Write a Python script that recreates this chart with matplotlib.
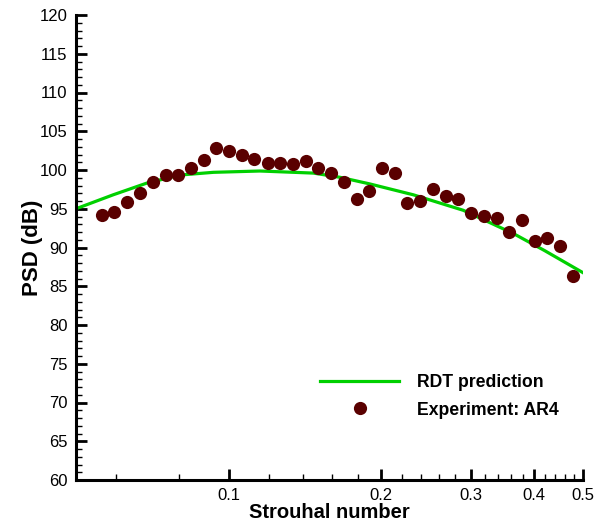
import numpy as np
import matplotlib
matplotlib.use('Agg')
import matplotlib.pyplot as plt

plt.rcParams['font.family'] = ['Liberation Sans', 'DejaVu Sans']

st_exp = [0.0562, 0.0595, 0.0631, 0.0669, 0.0708, 0.0752, 0.0796, 0.0842, 0.0893,
          0.0946, 0.1002, 0.1061, 0.1123, 0.1194, 0.1263, 0.1338, 0.1419, 0.1503,
          0.1594, 0.1689, 0.1789, 0.1894, 0.2004, 0.2127, 0.2251, 0.2385, 0.2530,
          0.2680, 0.2838, 0.3011, 0.3189, 0.3379, 0.3578, 0.3790, 0.4015, 0.4252,
          0.4504, 0.4771]
psd_exp = [94.2, 94.6, 95.9, 97.0, 98.4, 99.3, 99.3, 100.2, 101.3,
           102.8, 102.5, 101.9, 101.4, 100.9, 100.9, 100.8, 101.1, 100.2,
           99.6, 98.4, 96.3, 97.3, 100.2, 99.6, 95.8, 96.0, 97.5,
           96.6, 96.2, 94.5, 94.1, 93.8, 92.0, 93.5, 90.9, 91.2,
           90.2, 86.3]

# RDT prediction curve
st_rdt = [0.050, 0.0592, 0.0689, 0.0802, 0.0933, 0.1153, 0.147, 0.1658, 0.190,
          0.2314, 0.2903, 0.3645, 0.42, 0.50]
psd_rdt = [95.0, 96.8, 98.3, 99.35, 99.7, 99.87, 99.6, 99.06, 98.2,
           96.8, 94.8, 91.8, 89.6, 86.75]

major_x = [0.1, 0.2, 0.3, 0.4, 0.5]
minor_x = [0.06, 0.08, 0.12, 0.14, 0.16, 0.18, 0.22, 0.24, 0.26, 0.28,
           0.32, 0.34, 0.36, 0.38, 0.42, 0.44, 0.46, 0.48]

fig = plt.figure(figsize=(6.09, 5.25), dpi=100)
ax = fig.add_axes([76 / 609, 1 - 480 / 525, (583 - 76) / 609, (480 - 15) / 525])

ax.plot(st_rdt, psd_rdt, color='#00d000', lw=2.3, label='RDT prediction', zorder=2)
ax.plot(st_exp, psd_exp, 'o', color='#5a0000', ms=9.5, mew=0,
        label='Experiment: AR4', zorder=3)

ax.set_xscale('log')
ax.set_xlim(0.05, 0.5)
ax.set_ylim(60, 120)

ax.set_xticks(major_x)
ax.set_xticklabels([str(v) for v in major_x])
ax.set_xticks(minor_x, minor=True)
ax.xaxis.set_minor_formatter(matplotlib.ticker.NullFormatter())
ax.set_yticks(np.arange(60, 121, 5))
ax.set_yticks(np.arange(60, 121, 1), minor=True)

for s in ['top', 'right']:
    ax.spines[s].set_visible(False)
for s in ['left', 'bottom']:
    ax.spines[s].set_linewidth(2.2)

ax.tick_params(which='major', direction='in', length=8, width=2.0,
               labelsize=12, pad=6)
ax.tick_params(which='minor', direction='in', length=4.5, width=1.0)

ax.set_xlabel('Strouhal number', fontsize=14.5, fontweight='bold', labelpad=0)
ax.set_ylabel('PSD (dB)', fontsize=16, fontweight='bold', labelpad=-2)

ax.legend(loc='upper left', bbox_to_anchor=(320 / 609, 1 - 374 / 525),
          bbox_transform=fig.transFigure, frameon=False, borderpad=0,
          borderaxespad=0, handlelength=4.5, handletextpad=1.0,
          labelspacing=0.6, prop={'weight': 'bold', 'size': 12.7})

fig.savefig('out.png', dpi=100)
